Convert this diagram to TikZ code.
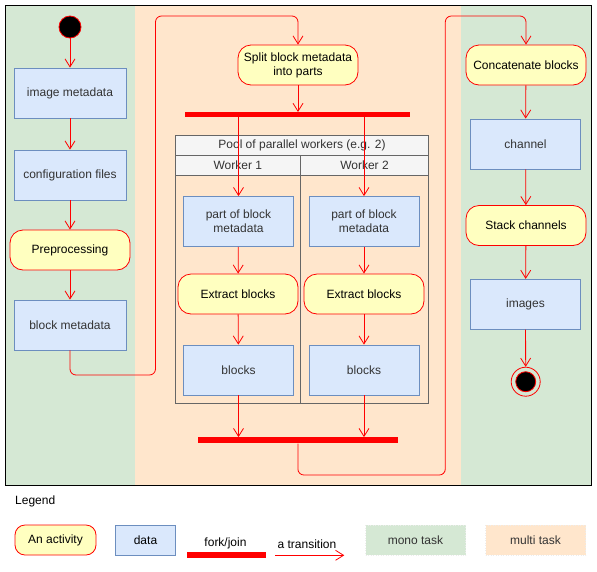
\documentclass[tikz,border=0pt]{standalone}
\usepackage{fontspec}
\setmainfont{Liberation Sans}
\usetikzlibrary{arrows.meta,positioning,calc}
\definecolor{monolane}{HTML}{D5E8D4}
\definecolor{multilane}{HTML}{FFE6CC}
\definecolor{actfill}{HTML}{FFFFC0}
\definecolor{datafill}{HTML}{DAE8FC}
\definecolor{dataline}{HTML}{6C8EBF}
\definecolor{poolfill}{HTML}{F5F5F5}
\definecolor{poolline}{HTML}{666666}
\definecolor{pooltext}{HTML}{333333}
\tikzset{
  % yellow rounded activity
  activity/.style={draw=red, fill=actfill, line width=0.8pt, rounded corners=13pt,
    minimum width=120pt, minimum height=40pt, inner sep=2pt, align=center},
  % blue data box
  databox/.style={draw=dataline, fill=datafill, line width=0.8pt,
    minimum width=110pt, minimum height=50pt, inner sep=2pt, align=center, text=pooltext},
  % thick fork / join bar
  forkbar/.style={fill=red, inner sep=0pt, minimum height=5pt},
  % transition arrow
  trans/.style={draw=red, line width=0.8pt, rounded corners=6pt,
    -{Straight Barb[length=8pt, width=10pt, line width=0.8pt]}},
  % pool header cells
  poolcell/.style={draw=poolline, fill=poolfill, line width=0.8pt,
    minimum height=20pt, inner sep=0pt, text=pooltext},
  % legend swatches for the lanes
  lanekey/.style={draw=white!85!gray, dotted, line width=0.5pt, minimum width=100pt,
    minimum height=30pt, inner sep=0pt, text=pooltext},
  % start / end states
  startdot/.style={circle, draw=red, fill=black, line width=0.8pt, inner sep=0pt},
}

\begin{document}
\begin{tikzpicture}[x=1pt, y=-1pt, font=\fontsize{12pt}{14pt}\selectfont]
    \useasboundingbox (0,0) rectangle (597,571);
    \fill[white] (0,0) rectangle (597,571);
    % lanes: mono | multi | mono
    \fill[monolane] (5,5) rectangle (135,485);
    \fill[multilane] (135,5) rectangle (461,485);
    \fill[monolane] (461,5) rectangle (591,485);
    \draw[black, line width=1pt] (5,5) rectangle (591,485);

    % left lane
    \node[startdot, minimum size=22pt] (start) at (70,27) {};
    \node[databox, minimum width=112pt] (imgmeta) at (70,93) {image metadata};
    \node[databox, minimum width=112pt] (conf) at (70,175) {configuration files};
    \node[activity] (prep) at (70,250) {Preprocessing};
    \node[databox, minimum width=112pt] (bmeta) at (70,325) {block metadata};

    % middle lane
    \node[activity] (split) at (298,65) {Split block metadata\\into parts};
    \node[forkbar, minimum width=225pt] (fork) at (297.5,114.7) {};

    % pool of workers
    \node[poolcell, minimum width=253.4pt] (pool) at (302,145.3) {Pool of parallel workers (e.g. 2)};
    \node[poolcell, minimum width=125pt] (wk1) at (237.8,165.3) {Worker 1};
    \node[poolcell, minimum width=128.4pt] (wk2) at (364.5,165.3) {Worker 2};
    \draw[poolline, line width=0.8pt] (175.3,175.3) rectangle (428.7,403.3);
    \draw[poolline, line width=0.8pt] (300.3,175.3) -- (300.3,403.3);

    \node[databox] (part1) at (238.5,221.5) {part of block\\metadata};
    \node[databox] (part2) at (364,221.5) {part of block\\metadata};
    \node[activity] (ext1) at (238,294) {Extract blocks};
    \node[activity] (ext2) at (364,294) {Extract blocks};
    \node[databox] (blk1) at (238.5,370) {blocks};
    \node[databox] (blk2) at (364,370) {blocks};
    \node[forkbar, minimum width=200pt, minimum height=6pt] (join) at (297.9,440.3) {};

    % right lane
    \node[activity] (concat) at (526,65) {Concatenate blocks};
    \node[databox] (chan) at (525.5,144) {channel};
    \node[activity] (stack) at (526,225.5) {Stack channels};
    \node[databox] (imgs) at (525.5,304.3) {images};
    \node[circle, draw=red, line width=0.8pt, minimum size=29pt, inner sep=0pt] (stop) at (525.7,381.7) {};
    \node[startdot, minimum size=20pt] (stopdot) at (stop) {};

    % route points
    \coordinate (lowA) at (155.5,375);
    \coordinate (topA) at (155.5,16);
    \coordinate (lowB) at (445.3,475);
    \coordinate (topB) at (445.3,16);

    % transitions
    \draw[trans] (start) -- (imgmeta);
    \draw[trans] (imgmeta) -- (conf);
    \draw[trans] (conf) -- (prep);
    \draw[trans] (prep) -- (bmeta);
    \draw[trans] (bmeta.south) |- (lowA) -- (topA) -| (split.north);
    \draw[trans] (split.south) -- (split.south |- fork.north);
    \draw[trans] (part1 |- fork.south) -- (part1);
    \draw[trans] (part2 |- fork.south) -- (part2);
    \draw[trans] (part1) -- (ext1);
    \draw[trans] (part2) -- (ext2);
    \draw[trans] (ext1) -- (blk1);
    \draw[trans] (ext2) -- (blk2);
    \draw[trans] (blk1.south) -- (blk1.south |- join.north);
    \draw[trans] (blk2.south) -- (blk2.south |- join.north);
    \draw[trans] (join.south) |- (lowB) -- (topB) -| (concat.north);
    \draw[trans] (concat) -- (chan);
    \draw[trans] (chan) -- (stack);
    \draw[trans] (stack) -- (imgs);
    \draw[trans] (imgs) -- (stop);

    % legend
    \node[anchor=west, inner sep=0pt] (legtitle) at (15,501) {Legend};
    \node[activity, minimum width=81pt, minimum height=30pt, rounded corners=10pt] (legact) at (55.5,540) {An activity};
    \node[databox, minimum width=60pt, minimum height=30pt, text=black] (legdata) at (145.5,540) {data};
    \node[forkbar, minimum width=79pt, minimum height=6pt] (legbar) at (226,555.3) {};
    \node (legbartxt) at (225.5,543) {fork/join};
    \coordinate (legtrA) at (275.3,555.3);
    \coordinate (legtrB) at (344.3,555.3);
    \draw[trans] (legtrA) -- (legtrB);
    \node (legtrtxt) at (307,544) {a transition};
    \node[lanekey, fill=monolane] (legmono) at (415.5,540.3) {mono task};
    \node[lanekey, fill=multilane] (legmulti) at (535.5,540.3) {multi task};
\end{tikzpicture}
\end{document}
